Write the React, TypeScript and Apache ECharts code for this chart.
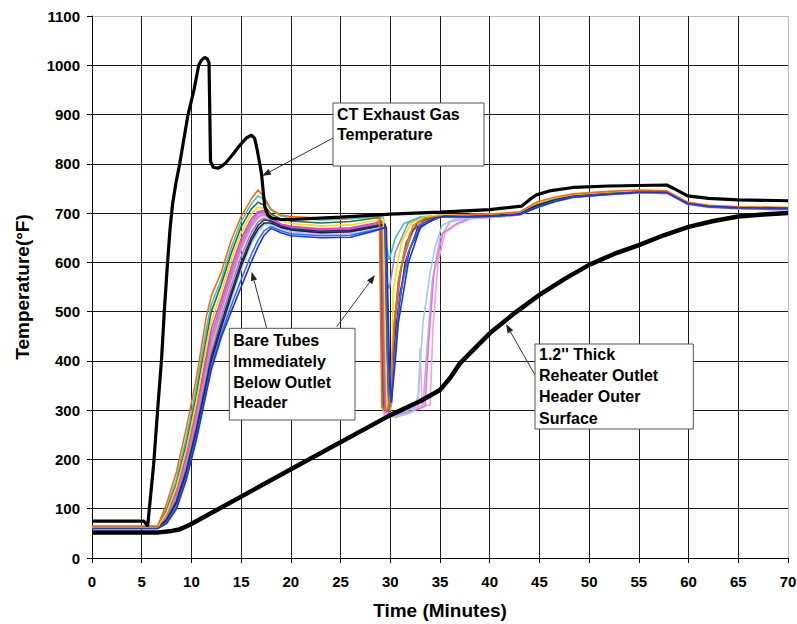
import React, { useEffect, useRef } from "react";
import * as echarts from "echarts";

// ---- Data (minutes, °F) ----
const ctExhaust: [number, number][] = [
  [0, 75], [5.2, 75], [5.6, 65], [6.2, 190], [6.6, 300], [7.0, 405], [7.3, 510], [7.6, 600],
  [7.85, 668], [8.1, 718], [8.45, 762], [8.82, 800], [9.66, 900], [10.26, 950], [10.73, 1000], [11.0, 1010],
  [11.33, 1016], [11.6, 1013], [11.77, 1005], [11.85, 900], [11.92, 805], [12.2, 793], [12.67, 791],
  [13.1, 796], [13.5, 803], [14.2, 820], [14.85, 837], [15.5, 852], [16.03, 858], [16.35, 852],
  [16.6, 830], [17.04, 781], [17.37, 713], [17.7, 696], [18.04, 690], [19.0, 687], [20, 687],
  [25, 692], [30, 698], [35, 702], [40, 707], [43.2, 714], [44.2, 730], [44.7, 737], [46, 745],
  [48.4, 752], [52, 755], [57.8, 757], [58.5, 750], [59.9, 735], [62, 730], [65, 727], [70, 725],
];

const reheaterSurface: [number, number][] = [
  [0, 52], [6.7, 52], [8.0, 55], [8.8, 58], [9.8, 67], [20, 180], [30, 290], [33, 318], [35, 341],
  [36, 365], [37, 395], [40, 456], [42.5, 497], [45, 534], [47.5, 566], [50, 595], [52.5, 617],
  [55, 635], [57.5, 655], [60, 672], [62.5, 684], [65, 693], [67.5, 697], [70, 700],
];

const riseX = [0, 6.6, 7.5, 8.5, 9.5, 10.5, 11.5, 12, 13, 14, 15, 16, 16.7, 17.3, 18, 19, 20, 23, 26, 28.5];
const lateX = [38, 40, 43, 44.7, 46.5, 48.4, 52, 55, 57.8, 59.9, 62, 65, 70];

const orangeRise = [65, 65, 110, 175, 265, 365, 490, 532, 580, 645, 693, 728, 747, 733, 708, 696, 693, 690, 691, 695];
const orangeDrop: [number, number][] = [[28.9, 692], [29.05, 450], [29.15, 305], [29.7, 300], [30.0, 330], [30.4, 477], [30.9, 570], [31.4, 620], [32.3, 675], [33.5, 690], [35, 694]];
const orangeLate = [697, 698, 702, 722, 732, 739, 744, 747, 745, 722, 716, 713, 711];

const turquoiseRise = [64, 64, 100, 160, 245, 345, 465, 515, 565, 630, 683, 718, 735, 728, 706, 694, 690, 686, 688, 693];
const turquoiseDrop: [number, number][] = [[29.3, 692], [29.55, 640], [29.9, 605], [30.5, 650], [31.4, 679], [33, 692], [35, 696]];
const turquoiseLate = [696, 697, 701, 720, 730, 737, 742, 745, 744, 721, 715, 712, 710];

const greenRise = [63, 63, 95, 150, 232, 330, 445, 500, 555, 618, 672, 708, 722, 716, 698, 688, 684, 680, 683, 690];
const greenDrop: [number, number][] = [[29.0, 690], [29.15, 420], [29.3, 302], [29.8, 298], [30.2, 420], [30.8, 560], [31.6, 640], [32.8, 682], [35, 695]];
const greenLate = [695, 696, 700, 716, 727, 735, 741, 744, 743, 720, 714, 711, 709];

const yellowRise = [62, 62, 92, 145, 222, 318, 430, 480, 540, 605, 660, 698, 712, 710, 694, 684, 679, 674, 676, 685];
const yellowDrop: [number, number][] = [[29.3, 688], [29.5, 450], [29.7, 305], [30.05, 300], [30.3, 544], [31.1, 639], [32.1, 680], [33.5, 692], [35, 696]];
const yellowLate = [697, 698, 702, 721, 731, 738, 743, 746, 745, 722, 716, 713, 711];

const magentaRise = [63, 63, 88, 138, 212, 305, 410, 465, 525, 590, 648, 688, 703, 705, 690, 678, 673, 668, 670, 680];
const magentaDrop: [number, number][] = [[29.1, 685], [29.3, 420], [29.45, 300], [29.9, 296], [30.3, 440], [31, 580], [32, 660], [33.5, 688], [35, 694]];
const magentaLate = [694, 695, 699, 714, 725, 734, 740, 743, 742, 719, 713, 710, 708];

const lavenderRise = [62, 62, 85, 130, 200, 290, 392, 445, 510, 575, 635, 678, 697, 700, 688, 676, 670, 664, 666, 676];
const lavenderDrop: [number, number][] = [[29.0, 680], [29.15, 400], [29.3, 295], [30, 290], [31, 295], [32.5, 305], [33.3, 310], [33.6, 400], [34.2, 560], [35, 650], [36, 682]];
const lavenderLate = [690, 692, 697, 712, 724, 733, 739, 742, 741, 719, 713, 710, 708];

const pinkRise = [61, 61, 82, 125, 192, 280, 380, 430, 498, 563, 625, 670, 690, 696, 686, 674, 668, 662, 664, 674];
const pinkDrop: [number, number][] = [[29.0, 678], [29.2, 380], [29.35, 290], [30.5, 285], [32.0, 295], [32.8, 305], [33.0, 425], [33.2, 310], [34.0, 310], [34.3, 470], [34.8, 600], [35.5, 660], [36.6, 676]];
const pinkLate = [688, 691, 696, 711, 723, 732, 738, 741, 740, 718, 712, 709, 707];

const grayRise = [62, 62, 80, 120, 185, 270, 368, 418, 487, 552, 612, 660, 682, 690, 683, 672, 666, 660, 662, 672];
const grayDrop: [number, number][] = [[29.2, 675], [29.4, 450], [29.55, 305], [29.95, 300], [30.4, 480], [31.2, 600], [32.3, 665], [34, 688], [35, 692]];
const grayLate = [694, 695, 699, 716, 727, 735, 740, 743, 742, 720, 714, 711, 709];

const navyRise = [61, 61, 78, 115, 178, 262, 358, 408, 476, 540, 600, 650, 675, 686, 684, 674, 668, 663, 665, 674];
const navyDrop: [number, number][] = [[29.5, 678], [29.8, 400], [30.0, 300], [30.4, 420], [31, 540], [32, 630], [33.3, 680], [35, 692]];
const navyLate = [693, 694, 698, 713, 725, 734, 740, 743, 742, 719, 713, 710, 709];

const blackRise = [62, 62, 76, 112, 172, 255, 350, 400, 468, 532, 592, 643, 668, 680, 680, 671, 666, 660, 662, 672];
const blackDrop: [number, number][] = [[29.4, 676], [29.6, 420], [29.8, 302], [30.1, 310], [30.6, 470], [31.5, 600], [32.8, 672], [35, 692]];
const blackLate = [693, 694, 698, 715, 726, 734, 740, 743, 742, 720, 714, 711, 709];

const lightBlueRise = [61, 61, 75, 108, 168, 250, 345, 395, 462, 525, 585, 636, 662, 676, 677, 668, 662, 657, 658, 668];
const lightBlueDrop: [number, number][] = [[29.2, 672], [29.4, 400], [29.6, 300], [30.5, 288], [31.5, 292], [32.3, 297], [32.8, 330], [33.3, 480], [34.0, 578], [34.5, 630], [35.2, 675], [36.5, 688]];
const lightBlueLate = [689, 691, 696, 711, 723, 732, 738, 741, 741, 718, 712, 709, 707];

const violetRise = [62, 62, 84, 128, 196, 285, 386, 438, 504, 569, 630, 674, 693, 698, 687, 675, 669, 663, 665, 675];
const violetDrop: [number, number][] = [[29.1, 678], [29.3, 400], [29.45, 295], [30.5, 290], [32.5, 300], [33.5, 308], [33.8, 420], [34.4, 580], [35.3, 660], [36.8, 680]];
const violetLate = [689, 691, 696, 712, 723, 732, 738, 741, 740, 718, 712, 709, 707];

const mauveRise = [62, 62, 86, 133, 205, 296, 400, 452, 515, 580, 640, 682, 700, 702, 689, 677, 671, 666, 668, 678];
const mauveDrop: [number, number][] = [[29.3, 682], [29.6, 560], [29.9, 547], [30.5, 620], [31.8, 680], [33, 690], [35, 694]];
const mauveLate = [694, 695, 699, 715, 726, 734, 740, 743, 742, 720, 714, 711, 709];

const royalRise = [60, 60, 72, 104, 165, 246, 340, 390, 455, 512, 565, 615, 645, 664, 673, 664, 658, 654, 655, 666];
const royalDrop: [number, number][] = [[29.5, 670], [29.7, 420], [29.9, 300], [30.3, 380], [30.9, 520], [31.8, 620], [33, 676], [35, 692]];
const royalLate = [692, 693, 697, 712, 724, 733, 739, 742, 742, 719, 713, 710, 708];

const blueRise = [60, 60, 70, 100, 160, 240, 335, 382, 448, 500, 550, 600, 632, 655, 669, 660, 654, 650, 651, 664];
const blueDrop: [number, number][] = [[29.6, 672], [29.9, 400], [30.1, 315], [30.5, 400], [30.8, 476], [31.8, 598], [33, 670], [34.5, 690], [35.5, 694]];
const blueLate = [692, 693, 697, 711, 723, 732, 738, 742, 742, 720, 714, 711, 710];

// tube series: [rise, drop, late] with draw colours
const tubes: { rise: number[]; drop: [number, number][]; late: number[]; color: string }[] = [
  { rise: lavenderRise, drop: lavenderDrop, late: lavenderLate, color: "#C9A7F5" },
  { rise: pinkRise, drop: pinkDrop, late: pinkLate, color: "#F7A1D5" },
  { rise: violetRise, drop: violetDrop, late: violetLate, color: "#D77FD8" },
  { rise: lightBlueRise, drop: lightBlueDrop, late: lightBlueLate, color: "#9CCBFA" },
  { rise: mauveRise, drop: mauveDrop, late: mauveLate, color: "#9C86B8" },
  { rise: grayRise, drop: grayDrop, late: grayLate, color: "#8E8E9E" },
  { rise: magentaRise, drop: magentaDrop, late: magentaLate, color: "#FF33CC" },
  { rise: turquoiseRise, drop: turquoiseDrop, late: turquoiseLate, color: "#33C6D6" },
  { rise: greenRise, drop: greenDrop, late: greenLate, color: "#2F6B45" },
  { rise: blackRise, drop: blackDrop, late: blackLate, color: "#222222" },
  { rise: navyRise, drop: navyDrop, late: navyLate, color: "#1E2A80" },
  { rise: yellowRise, drop: yellowDrop, late: yellowLate, color: "#F5E000" },
  { rise: royalRise, drop: royalDrop, late: royalLate, color: "#3D6BE0" },
  { rise: orangeRise, drop: orangeDrop, late: orangeLate, color: "#FF6A00" },
  { rise: blueRise, drop: blueDrop, late: blueLate, color: "#1A33F0" },
];

const FONT = "'Liberation Sans', Arial, Helvetica, sans-serif";
const GRID = "#1c1c1c";
const EDGE = "#c7b5d4";

function arrow(x1: number, y1: number, x2: number, y2: number) {
  const ang = Math.atan2(y2 - y1, x2 - x1);
  const len = 9;
  const half = 3.2;
  const bx = x2 - len * Math.cos(ang);
  const by = y2 - len * Math.sin(ang);
  const px = -Math.sin(ang) * half;
  const py = Math.cos(ang) * half;
  return [
    { type: "line", shape: { x1, y1, x2: bx, y2: by }, style: { stroke: "#333", lineWidth: 1 }, z: 100 },
    {
      type: "polygon",
      shape: { points: [[x2, y2], [bx + px, by + py], [bx - px, by - py]] },
      style: { fill: "#222" },
      z: 100,
    },
  ];
}

function box(x: number, y: number, w: number, h: number, text: string, lh: number, textTop: number) {
  return [
    { type: "rect", shape: { x, y, width: w, height: h }, style: { fill: "#fff", stroke: "#555", lineWidth: 1 }, z: 101 },
    {
      type: "text",
      x: x + 4,
      y: textTop,
      style: { text, font: `bold 16px ${FONT}`, fill: "#000", lineHeight: lh, verticalAlign: "top" },
      z: 102,
    },
  ];
}

export default function App() {
  const ref = useRef<HTMLDivElement>(null);
  useEffect(() => {
    if (!ref.current) return;
    const chart = echarts.init(ref.current, undefined, { renderer: "svg" });
    const yColors = Array.from({ length: 12 }, (_, i) => (i === 11 ? EDGE : GRID));
    const xColors = Array.from({ length: 15 }, (_, i) => (i === 14 ? EDGE : GRID));

    const tubeSeries = tubes.map((t) => ({
      type: "line",
      data: [
        ...riseX.map((x, i) => [x, t.rise[i]]),
        ...t.drop,
        ...lateX.map((x, i) => [x, t.late[i]]),
      ],
      showSymbol: false,
      symbol: "none",
      lineStyle: { color: t.color, width: 1.6 },
      silent: true,
      z: 2,
    }));

    chart.setOption({
      animation: false,
      backgroundColor: "#fff",
      grid: { left: 92, top: 16, right: 9, bottom: 66, containLabel: false, outerBoundsMode: "none" },
      xAxis: {
        type: "value",
        min: 0,
        max: 70,
        interval: 5,
        name: "Time (Minutes)",
        nameLocation: "middle",
        nameGap: 43,
        nameTextStyle: { fontSize: 19, fontWeight: "bold", color: "#000", fontFamily: FONT },
        axisLine: { show: true, lineStyle: { color: "#000", width: 1 } },
        axisTick: { show: true, length: 5, lineStyle: { color: "#000" } },
        axisLabel: { fontSize: 15, fontWeight: "bold", color: "#000", fontFamily: FONT, margin: 16, formatter: (v: number) => String(v) },
        splitLine: { show: true, lineStyle: { color: xColors, width: 1 } },
      },
      yAxis: {
        type: "value",
        min: 0,
        max: 1100,
        interval: 100,
        name: "Temperature(°F)",
        nameLocation: "middle",
        nameGap: 60,
        nameRotate: 90,
        nameTextStyle: { fontSize: 19, fontWeight: "bold", color: "#000", fontFamily: FONT },
        axisLine: { show: true, lineStyle: { color: "#000", width: 1 } },
        axisTick: { show: true, length: 5, lineStyle: { color: "#000" } },
        axisLabel: { fontSize: 15, fontWeight: "bold", color: "#000", fontFamily: FONT, margin: 12, formatter: (v: number) => String(v) },
        splitLine: { show: true, lineStyle: { color: yColors, width: 1 } },
      },
      series: [
        ...tubeSeries,
        {
          type: "line",
          data: reheaterSurface,
          showSymbol: false,
          symbol: "none",
          lineStyle: { color: "#000", width: 4.5 },
          silent: true,
          z: 3,
        },
        {
          type: "line",
          data: ctExhaust,
          showSymbol: false,
          symbol: "none",
          lineStyle: { color: "#000", width: 3.2 },
          silent: true,
          z: 4,
        },
      ],
      graphic: [
        ...arrow(333, 138, 262, 176),
        ...arrow(266.7, 328.3, 251.7, 271.7),
        ...arrow(336.7, 326.7, 375, 275),
        ...arrow(535, 375, 506, 324),
        ...box(333, 103, 151, 63, "CT Exhaust Gas\nTemperature", 20, 104),
        ...box(229.3, 328.3, 125.7, 91.7, "Bare Tubes\nImmediately\nBelow Outlet\nHeader", 20.6, 330.5),
        ...box(535, 344, 158.3, 85, "1.2'' Thick\nReheater Outlet\nHeader Outer\nSurface", 21.3, 343.5),
      ],
    });
    return () => chart.dispose();
  }, []);
  return (
    <div
      ref={ref}
      style={{ position: "fixed", left: 0, top: 0, width: 797, height: 624, background: "#fff" }}
    />
  );
}
